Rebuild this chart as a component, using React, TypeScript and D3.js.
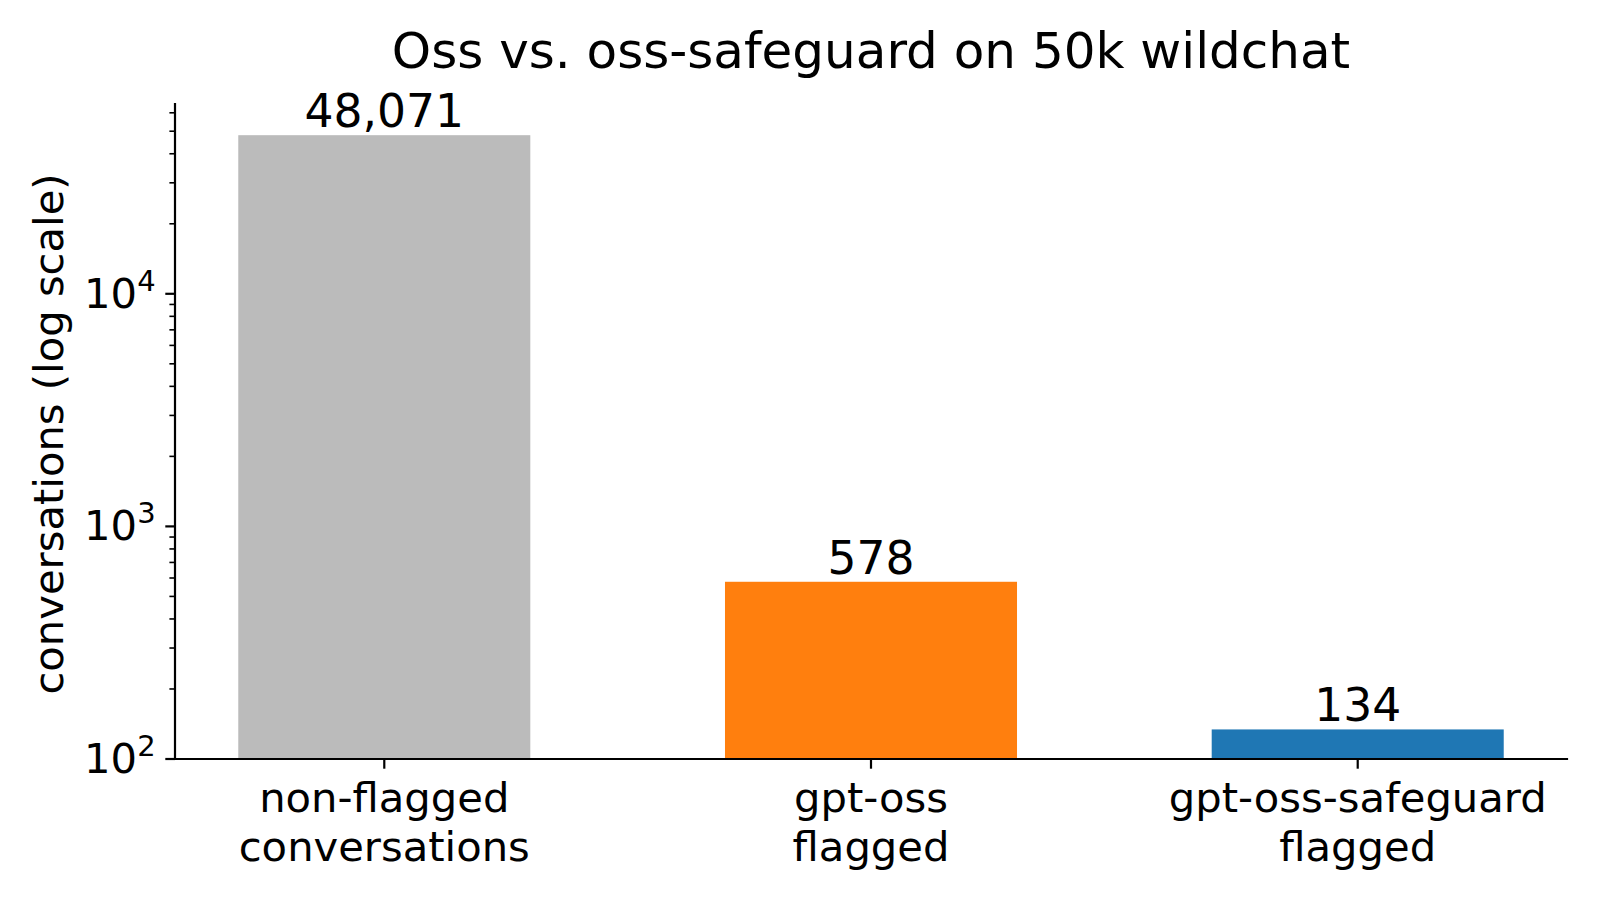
import React from "react";
import * as d3 from "d3";

const categories = [["non-flagged", "conversations"], ["gpt-oss", "flagged"], ["gpt-oss-safeguard", "flagged"]];
const values = [48071, 578, 134];
const colors = ["#bbbbbb", "#ff7f0e", "#1f77b4"];
const majorTicks = [100, 1000, 10000];
const tickExponents = ["2", "3", "4"];
const title = "Oss vs. oss-safeguard on 50k wildchat";
const yLabel = "conversations (log scale)";

const W = 1600, H = 900;
const left = 175, right = 1567, top = 104, bottom = 759;
const FONT = "DejaVu Sans";

export default function App() {
  const logMax = Math.log10(d3.max(values)!);
  const span = logMax - 2;
  const yMax = Math.pow(10, logMax + 0.05 * span);
  const y = d3.scaleLog().domain([100, yMax]).range([bottom, top]);
  const x = d3.scaleLinear().domain([-0.43, 2.43]).range([left, right]);
  const bw = 0.6;
  const minor: number[] = [];
  for (let e = 2; e <= 4; e++) {
    for (let m = 2; m <= 9; m++) {
      const v = m * Math.pow(10, e);
      if (v <= yMax) minor.push(v);
    }
  }
  const fmt = d3.format(",");
  return (
    <svg width={W} height={H} style={{ position: "absolute", left: 0, top: 0, background: "#fff" }} fontFamily={FONT}>
      <rect width={W} height={H} fill="#fff" />
      <text x={(left + right) / 2} y={68} textAnchor="middle" fontSize={50}>{title}</text>
      {values.map((v, i) => (
        <g key={i}>
          <rect x={x(i - bw / 2)} y={y(v)} width={x(i + bw / 2) - x(i - bw / 2)} height={bottom - y(v)} fill={colors[i]} />
          <text x={x(i)} y={y(v) - 8} textAnchor="middle" fontSize={45.6}>{fmt(v)}</text>
        </g>
      ))}
      {/* spines */}
      <line x1={left} x2={left} y1={top} y2={bottom} stroke="#000" strokeWidth={2.2} strokeLinecap="square" />
      <line x1={left} x2={right} y1={bottom} y2={bottom} stroke="#000" strokeWidth={2.2} strokeLinecap="square" />
      {/* y ticks */}
      {minor.map((v, i) => (
        <line key={"m" + i} x1={left - 5.6} x2={left} y1={y(v)} y2={y(v)} stroke="#000" strokeWidth={1.6} />
      ))}
      {majorTicks.map((v, i) => (
        <g key={"M" + i}>
          <line x1={left - 9.7} x2={left} y1={y(v)} y2={y(v)} stroke="#000" strokeWidth={2.2} />
          <text x={left - 9.7 - 9.7} y={y(v) + 14} textAnchor="end" fontSize={41.7}>
            10<tspan fontSize={29} dy={-17}>{tickExponents[i]}</tspan>
          </text>
        </g>
      ))}
      {/* x ticks */}
      {categories.map((c, i) => (
        <g key={"x" + i}>
          <line x1={x(i)} x2={x(i)} y1={bottom} y2={bottom + 9.7} stroke="#000" strokeWidth={2.2} />
          <text x={x(i)} y={812} textAnchor="middle" fontSize={41.7}>{c[0]}</text>
          <text x={x(i)} y={861} textAnchor="middle" fontSize={41.7}>{c[1]}</text>
        </g>
      ))}
      <text transform={`translate(63, ${434}) rotate(-90)`} textAnchor="middle" fontSize={41.7}>{yLabel}</text>
    </svg>
  );
}
